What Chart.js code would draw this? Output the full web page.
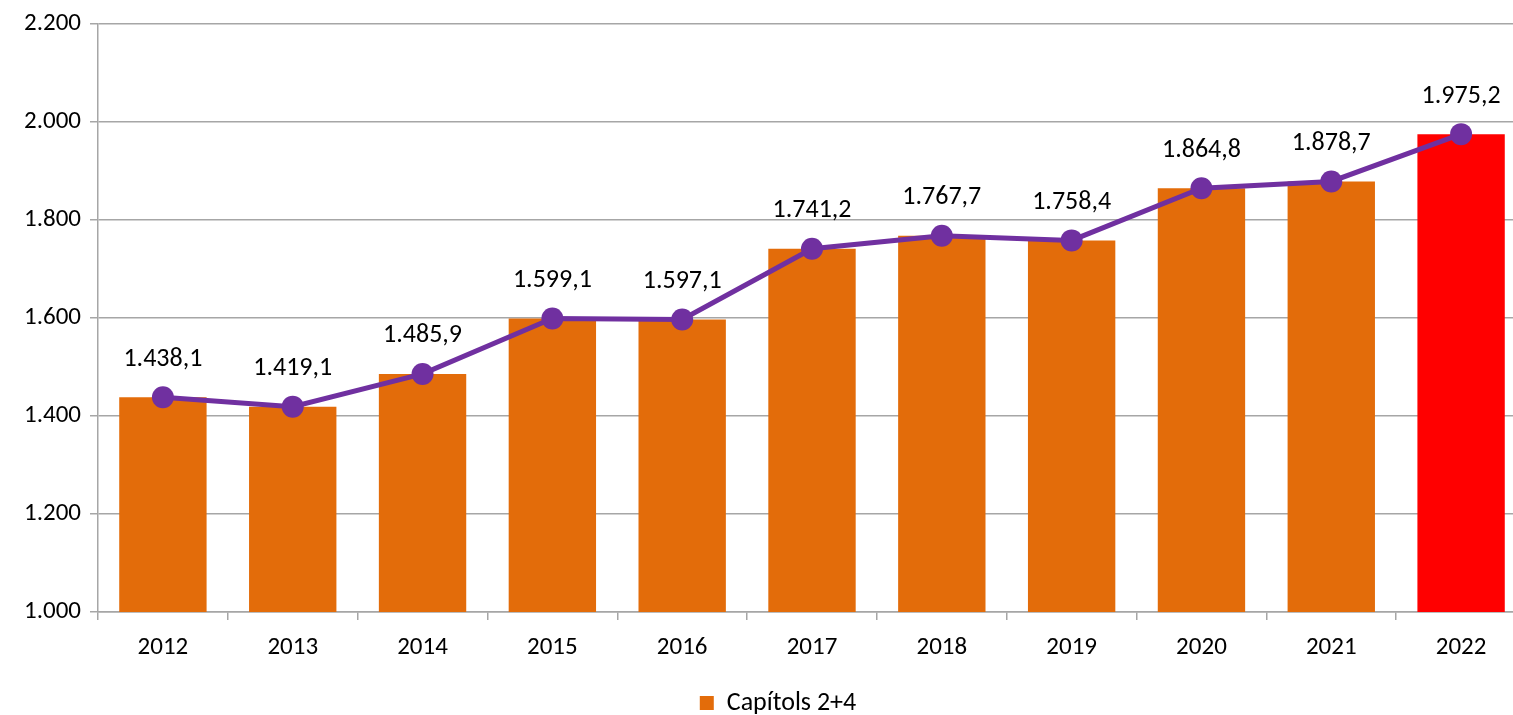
<!DOCTYPE html>
<html><head><meta charset="utf-8">
<script src="https://cdn.jsdelivr.net/npm/chart.js@4/dist/chart.umd.min.js"></script>
<style>html,body{margin:0;padding:0;background:#fff;overflow:hidden}#wrap{width:1526px;height:715px}</style>
</head><body><div id="wrap"><canvas id="c"></canvas></div>
<script>
const categories = ['2012','2013','2014','2015','2016','2017','2018','2019','2020','2021','2022'];
const values = [1438.1,1419.1,1485.9,1599.1,1597.1,1741.2,1767.7,1758.4,1864.8,1878.7,1975.2];
const seriesName = 'Capítols 2+4';
const FONT = 'Carlito, Calibri, Lato, sans-serif';
const FS = 25;

function fmt(v, dec){
  const s = v.toFixed(dec);
  let [i,d] = s.split('.');
  i = i.replace(/\B(?=(\d{3})+(?!\d))/g,'.');
  return d ? i+','+d : i;
}
const barColors = categories.map((c,i)=> i===categories.length-1 ? '#FF0000' : '#E36C0A');

const labelPlugin = {
  id:'lbl',
  afterLayout(chart){
    if (chart.legend){ chart.legend.left += 15; chart.legend.right += 15; }
  },
  afterDatasetsDraw(chart){
    const ctx = chart.ctx;
    const meta = chart.getDatasetMeta(1);
    ctx.save();
    ctx.font = '26px '+FONT;
    ctx.fillStyle = '#000';
    ctx.textAlign='center'; ctx.textBaseline='middle';
    meta.data.forEach((pt,i)=>{
      ctx.fillText(fmt(values[i],1), pt.x, pt.y-38);
    });
    ctx.restore();
  }
};

new Chart(document.getElementById('c'),{
  data:{
    labels:categories,
    datasets:[
      {type:'bar',label:seriesName,data:values,backgroundColor:barColors,categoryPercentage:1,barPercentage:0.673,order:2},
      {type:'line',label:'line',data:values,borderColor:'#7030A0',backgroundColor:'#7030A0',borderWidth:5,pointRadius:11,pointHoverRadius:11,pointBackgroundColor:'#7030A0',pointBorderWidth:0,tension:0,order:1}
    ]
  },
  options:{
    responsive:true,maintainAspectRatio:false,animation:false,
    layout:{autoPadding:false,padding:{top:20,right:0,left:0,bottom:-11}},
    plugins:{
      legend:{position:'bottom',labels:{filter:(it)=>it.datasetIndex===0,boxWidth:14,boxHeight:14,padding:0,color:'#000',font:{family:FONT,size:26}}},
      tooltip:{enabled:false}
    },
    scales:{
      x:{offset:true,afterFit(s){s.height=78;s.paddingLeft=0;s.paddingRight=0;},grid:{offset:true,drawOnChartArea:false,color:'#A6A6A6',tickLength:8,lineWidth:1.5},border:{color:'#A6A6A6',width:1.5},ticks:{color:'#000',font:{family:FONT,size:FS},padding:13}},
      y:{min:1000,max:2200,afterFit(s){s.width=98;},grid:{color:'#A6A6A6',tickLength:8,lineWidth:1.5},border:{color:'#A6A6A6',width:1.5},ticks:{stepSize:200,color:'#000',padding:9,font:{family:FONT,size:FS},callback:(v)=>fmt(v,0)}}
    }
  },
  plugins:[labelPlugin]
});
</script></body></html>
